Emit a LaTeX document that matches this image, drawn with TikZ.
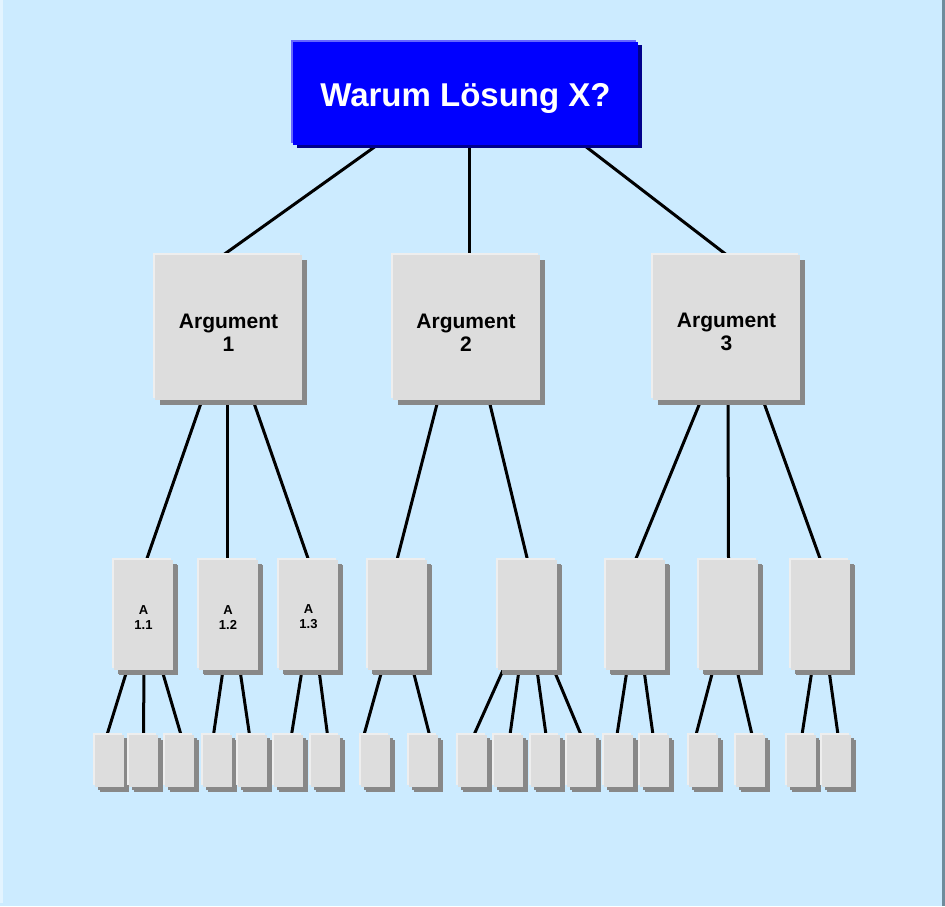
\documentclass[tikz,border=0pt]{standalone}
\usepackage{fontspec}
\setmainfont{Liberation Sans}
\usetikzlibrary{shadows}
\definecolor{bgblue}{HTML}{CCEBFF}
\definecolor{bglight}{HTML}{E3F4FF}
\definecolor{bgdark}{HTML}{6E8C9C}
\definecolor{boxfill}{HTML}{DDDDDD}
\definecolor{boxlight}{HTML}{EEEEEE}
\definecolor{boxshadow}{HTML}{888888}
\definecolor{topfill}{HTML}{0000FF}
\definecolor{toplight}{HTML}{6666FF}
\definecolor{topshadow}{HTML}{00008C}
\pgfdeclarelayer{bglayer}
\pgfdeclarelayer{linelayer}
\pgfsetlayers{bglayer,linelayer,main}
\tikzset{
  boxbase/.style={rectangle, inner sep=0pt, draw=none, align=center, text=black,
    font=\bfseries,
    general shadow={fill=boxlight, shadow xshift=-2pt, shadow yshift=2pt},
    general shadow={fill=boxshadow, shadow xshift=5pt, shadow yshift=-5pt},
    fill=boxfill},
  topbox/.style={rectangle, inner sep=0pt, draw=none, align=center, text=white,
    font=\bfseries\fontsize{33}{40}\selectfont,
    general shadow={fill=toplight, shadow xshift=-2pt, shadow yshift=2pt},
    general shadow={fill=topshadow, shadow xshift=4pt, shadow yshift=-3pt},
    fill=topfill, minimum width=345pt, minimum height=103pt},
  argbox/.style={boxbase, minimum width=147pt, minimum height=145pt,
    font=\bfseries\fontsize{21}{23}\selectfont},
  subbox/.style={boxbase, minimum width=59pt, minimum height=110pt,
    font=\bfseries\fontsize{13}{15}\selectfont,
    general shadow={fill=boxshadow, shadow xshift=4pt, shadow yshift=-4pt}},
  leafbox/.style={boxbase, minimum width=29pt, minimum height=52pt,
    general shadow={fill=boxshadow, shadow xshift=3pt, shadow yshift=-3pt}},
  conn/.style={draw=black, line width=3pt}
}
\begin{document}
\begin{tikzpicture}[x=1pt,y=-1pt]
\begin{pgfonlayer}{bglayer}
  \fill[bgblue] (0,0) rectangle (945,906);
  \fill[bglight] (0,0) rectangle (3,903);
  \fill[bgdark] (942,0) rectangle (945,906);
\end{pgfonlayer}
\useasboundingbox (0,0) rectangle (945,906);

% top
\node[topbox] (top) at (465.5,93.5) {\rule{0pt}{33pt}Warum Lösung X?};

% arguments
\node[argbox] (a1) at (228.5,327.5) {\rule{0pt}{24pt}Argument\\1};
\node[argbox] (a2) at (466,327.5) {\rule{0pt}{24pt}Argument\\2};
\node[argbox] (a3) at (726.5,327.5) {\rule{0pt}{24pt}Argument\\3};

% level 2
\node[subbox] (s11) at (143.5,615) {\rule{0pt}{13pt}A\\1.1};
\node[subbox] (s12) at (228,615) {\rule{0pt}{13pt}A\\1.2};
\node[subbox] (s13) at (308.5,615) {\rule{0pt}{13pt}A\\1.3};
\node[subbox] (s21) at (397,615) {};
\node[subbox] (s22) at (527.5,615) {};
\node[subbox] (s31) at (635.5,615) {};
\node[subbox] (s32) at (728.5,615) {};
\node[subbox] (s33) at (820.5,615) {};

% leaves
\node[leafbox] (l1) at (109,761) {};
\node[leafbox] (l2) at (143.5,761) {};
\node[leafbox] (l3) at (179.5,761) {};
\node[leafbox] (l4) at (217.5,761) {};
\node[leafbox] (l5) at (252.5,761) {};
\node[leafbox] (l6) at (288.5,761) {};
\node[leafbox] (l7) at (325.5,761) {};
\node[leafbox] (l8) at (375,761) {};
\node[leafbox] (l9) at (423.5,761) {};
\node[leafbox] (l10) at (472.5,761) {};
\node[leafbox] (l11) at (508.5,761) {};
\node[leafbox] (l12) at (545.5,761) {};
\node[leafbox] (l13) at (581.5,761) {};
\node[leafbox] (l14) at (618.5,761) {};
\node[leafbox] (l15) at (654.5,761) {};
\node[leafbox] (l16) at (703.5,761) {};
\node[leafbox] (l17) at (750.5,761) {};
\node[leafbox] (l18) at (801,761) {};
\node[leafbox] (l19) at (836.5,761) {};

\begin{pgfonlayer}{linelayer}
  % top to arguments
  \draw[conn] ([xshift=-88.5pt]top.south) -- ([xshift=-5pt]a1.north);
  \draw[conn] ([xshift=3.5pt]top.south) -- ([xshift=3pt]a2.north);
  \draw[conn] ([xshift=118.5pt]top.south) -- (a3.north);
  % argument 1
  \draw[conn] ([xshift=-26.5pt]a1.south) -- ([xshift=3pt]s11.north);
  \draw[conn] ([xshift=-1.5pt]a1.south) -- ([xshift=-1pt]s12.north);
  \draw[conn] ([xshift=24.5pt]a1.south) -- (s13.north);
  % argument 2
  \draw[conn] ([xshift=-28pt]a2.south) -- (s21.north);
  \draw[conn] ([xshift=23pt]a2.south) -- (s22.north);
  % argument 3
  \draw[conn] ([xshift=-25.5pt]a3.south) -- (s31.north);
  \draw[conn] ([xshift=1.5pt]a3.south) -- (s32.north);
  \draw[conn] ([xshift=36.5pt]a3.south) -- (s33.north);
  % level 2 to leaves
  \draw[conn] ([xshift=-16.5pt]s11.south) -- ([xshift=-2pt]l1.north);
  \draw[conn] ([xshift=0.5pt]s11.south) -- (l2.north);
  \draw[conn] ([xshift=18.5pt]s11.south) -- ([xshift=1.5pt]l3.north);
  \draw[conn] ([xshift=-5pt]s12.south) -- ([xshift=-4pt]l4.north);
  \draw[conn] ([xshift=12pt]s12.south) -- ([xshift=-3pt]l5.north);
  \draw[conn] ([xshift=-6.5pt]s13.south) -- ([xshift=3pt]l6.north);
  \draw[conn] ([xshift=10.5pt]s13.south) -- ([xshift=2pt]l7.north);
  \draw[conn] ([xshift=-15pt]s21.south) -- ([xshift=-11pt]l8.north);
  \draw[conn] ([xshift=16pt]s21.south) -- ([xshift=6pt]l9.north);
  \draw[conn] ([xshift=-24.5pt]s22.south) -- ([xshift=1.5pt]l10.north);
  \draw[conn] ([xshift=-8.5pt]s22.south) -- ([xshift=1.5pt]l11.north);
  \draw[conn] ([xshift=9.5pt]s22.south) -- ([xshift=0.5pt]l12.north);
  \draw[conn] ([xshift=26.5pt]s22.south) -- ([xshift=-0.5pt]l13.north);
  \draw[conn] ([xshift=-8.5pt]s31.south) -- ([xshift=-1.5pt]l14.north);
  \draw[conn] ([xshift=8.5pt]s31.south) -- ([xshift=-1.5pt]l15.north);
  \draw[conn] ([xshift=-15.5pt]s32.south) -- ([xshift=-7.5pt]l16.north);
  \draw[conn] ([xshift=8.5pt]s32.south) -- ([xshift=1.5pt]l17.north);
  \draw[conn] ([xshift=-8.5pt]s33.south) -- ([xshift=1pt]l18.north);
  \draw[conn] ([xshift=8.5pt]s33.south) -- ([xshift=1.5pt]l19.north);
\end{pgfonlayer}
\end{tikzpicture}
\end{document}
